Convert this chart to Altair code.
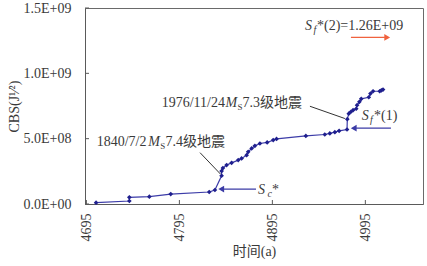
import altair as alt
import pandas as pd

# ---- data series (time in "a", CBS value) ----
years = [4705.4, 4741.2, 4741.2, 4762.7, 4785.7, 4827.1, 4833.2, 4840.4, 4840.4, 4841.8,
         4845.8, 4851.2, 4858.3, 4861.9, 4867.3, 4869.0, 4872.7, 4876.2, 4881.6, 4889.4,
         4895.9, 4899.5, 4931.0, 4951.4, 4956.8, 4962.2, 4966.8, 4975.3, 4975.6, 4977.2,
         4979.5, 4981.8, 4985.2, 4986.1, 4988.6, 4990.6, 4998.7, 5000.5, 5003.3, 5010.4,
         5012.2, 5014.0]
cbs = [1.0e7, 2.3e7, 5.1e7, 5.6e7, 7.6e7, 9.2e7, 1.07e8, 2.16e8, 2.52e8, 2.75e8,
       2.98e8, 3.15e8, 3.36e8, 3.49e8, 3.74e8, 3.99e8, 4.25e8, 4.45e8, 4.63e8, 4.71e8,
       4.89e8, 4.98e8, 5.21e8, 5.32e8, 5.40e8, 5.50e8, 5.60e8, 5.70e8, 6.49e8, 6.91e8,
       7.06e8, 7.18e8, 7.29e8, 7.56e8, 7.82e8, 8.05e8, 8.17e8, 8.45e8, 8.63e8, 8.63e8,
       8.70e8, 8.76e8]

x_ticks = [4695, 4795, 4895, 4995]
y_ticks = [0, 5e8, 1e9, 1.5e9]
y_tick_labels = ["0.0E+00", "5.0E+08", "1.0E+09", "1.5E+09"]
x_domain = [4693.5, 5057]
y_domain = [0, 1.5e9]

# ---- annotation text pieces (anchor in data units) ----
normal_text = ["1840/7/2", "7.4级地震", "1976/11/24", "7.3级地震", "*(2)=1.26E+09", "*(1)", "*"]
normal_x = [4706.1, 4780.0, 4776.0, 4863.0, 4943.0, 5004.3, 4894.6]
normal_y = [4.43e8, 4.43e8, 7.40e8, 7.40e8, 1.332e9, 6.45e8, 0.76e8]

italic_text = ["M", "M", "S", "S", "S"]
italic_x = [4761.5, 4844.5, 4930.1, 4991.1, 4879.6]
italic_y = [4.43e8, 7.40e8, 1.332e9, 6.45e8, 0.76e8]

sub_text = ["S", "S", "f", "f", "c"]
sub_x = [4774.5, 4857.5, 4939.2, 5000.0, 4889.8]
sub_y = [4.43e8, 7.40e8, 1.332e9, 6.45e8, 0.76e8]
sub_italic = [False, False, True, True, True]

# leader lines (gray)
lead_x = [4817.2, 4935.4]
lead_x2 = [4839.2, 4973.0]
lead_y = [3.93e8, 7.48e8]
lead_y2 = [2.29e8, 6.54e8]

# arrows: shaft from start to head
arr_x = [4979.5, 5022.5, 4877.4]
arr_x2 = [5016.0, 4985.0, 4842.5]
arr_y = [1.275e9, 5.80e8, 1.145e8]
arr_head_x = [5018.5, 4982.5, 4840.0]
arr_color = ["#f0623e", "#3b3ba6", "#3b3ba6"]
arr_shape = ["triangle-right", "triangle-left", "triangle-left"]

FONT = "Liberation Serif, Noto Sans CJK SC"
TXT = "#3a3a3a"

df = pd.DataFrame({"x": years, "y": cbs})
xs = alt.Scale(domain=x_domain, nice=False, zero=False)
ys = alt.Scale(domain=y_domain, nice=False, zero=True)

label_expr = "[" + ",".join("'%s'" % s for s in y_tick_labels) + "][round(datum.value/5e8)]"

X = alt.X("x:Q", scale=xs, title="时间(a)",
          axis=alt.Axis(values=x_ticks, format="d", labelAngle=-90, ticks=False, grid=False,
                        labelFont=FONT, labelFontSize=14, labelColor=TXT, labelPadding=9,
                        domainColor="#5a5a5a", titleFont=FONT, titleFontSize=14,
                        titleFontWeight="normal", titleColor=TXT, titlePadding=3,
                        labelFlush=False, labelOverlap=False))
Y = alt.Y("y:Q", scale=ys, title="CBS(J¹⁄²)",
          axis=alt.Axis(values=y_ticks, labelExpr=label_expr, ticks=False, grid=False,
                        labelFont=FONT, labelFontSize=14, labelColor=TXT, labelPadding=14,
                        domainColor="#5a5a5a", titleFont=FONT, titleFontSize=14,
                        titleFontWeight="normal", titleColor=TXT, titlePadding=2,
                        labelFlush=False, labelOverlap=False))

line = alt.Chart(df).mark_line(color="#3c3ca8", strokeWidth=1.2).encode(x=X, y=Y)
pts = alt.Chart(df).mark_point(shape="diamond", filled=True, size=22, color="#1f1f8e",
                               opacity=1).encode(x="x:Q", y="y:Q")

xt = alt.Chart(pd.DataFrame({"x": x_ticks})).mark_rule(color="#5a5a5a").encode(
    x="x:Q", y=alt.value(192), y2=alt.value(196))
yt = alt.Chart(pd.DataFrame({"y": y_ticks})).mark_rule(color="#5a5a5a").encode(
    y="y:Q", x=alt.value(0), x2=alt.value(4))

lead = alt.Chart(pd.DataFrame({"x": lead_x, "x2": lead_x2, "y": lead_y, "y2": lead_y2})).mark_rule(
    color="#333333", strokeWidth=1).encode(x="x:Q", x2="x2", y="y:Q", y2="y2")

adf = pd.DataFrame({"x": arr_x, "x2": arr_x2, "y": arr_y, "hx": arr_head_x,
                    "c": arr_color, "s": arr_shape})
shaft = alt.Chart(adf).mark_rule(strokeWidth=1.3).encode(
    x="x:Q", x2="x2", y="y:Q", color=alt.Color("c:N", scale=None))
heads = alt.Chart(adf).mark_point(filled=True, size=45, opacity=1).encode(
    x="hx:Q", y="y:Q", color=alt.Color("c:N", scale=None),
    shape=alt.Shape("s:N", scale=None))

t_norm = alt.Chart(pd.DataFrame({"x": normal_x, "y": normal_y, "t": normal_text})).mark_text(
    align="left", baseline="alphabetic", font=FONT, fontSize=14, color=TXT).encode(
    x="x:Q", y="y:Q", text="t:N")
t_it = alt.Chart(pd.DataFrame({"x": italic_x, "y": italic_y, "t": italic_text})).mark_text(
    align="left", baseline="alphabetic", font=FONT, fontSize=14, fontStyle="italic",
    color=TXT).encode(x="x:Q", y="y:Q", text="t:N")
sdf = pd.DataFrame({"x": sub_x, "y": sub_y, "t": sub_text, "it": sub_italic})
t_sub = alt.Chart(sdf[~sdf["it"]]).mark_text(
    align="left", baseline="alphabetic", font=FONT, fontSize=9, dy=3,
    color=TXT).encode(x="x:Q", y="y:Q", text="t:N")
t_sub_it = alt.Chart(sdf[sdf["it"]]).mark_text(
    align="left", baseline="alphabetic", font=FONT, fontSize=10, dy=3, fontStyle="italic",
    color=TXT).encode(x="x:Q", y="y:Q", text="t:N")

chart = alt.layer(line, pts, xt, yt, lead, shaft, heads, t_norm, t_it, t_sub, t_sub_it).properties(
    width=338, height=196,
    autosize=alt.AutoSizeParams(type="none"),
    padding={"left": 85, "top": 8, "right": 4, "bottom": 62},
    background="white",
).configure_view(stroke="#6a6a6a", strokeWidth=1)

chart.save("out.html", embed_options={"renderer": "svg", "actions": False})
